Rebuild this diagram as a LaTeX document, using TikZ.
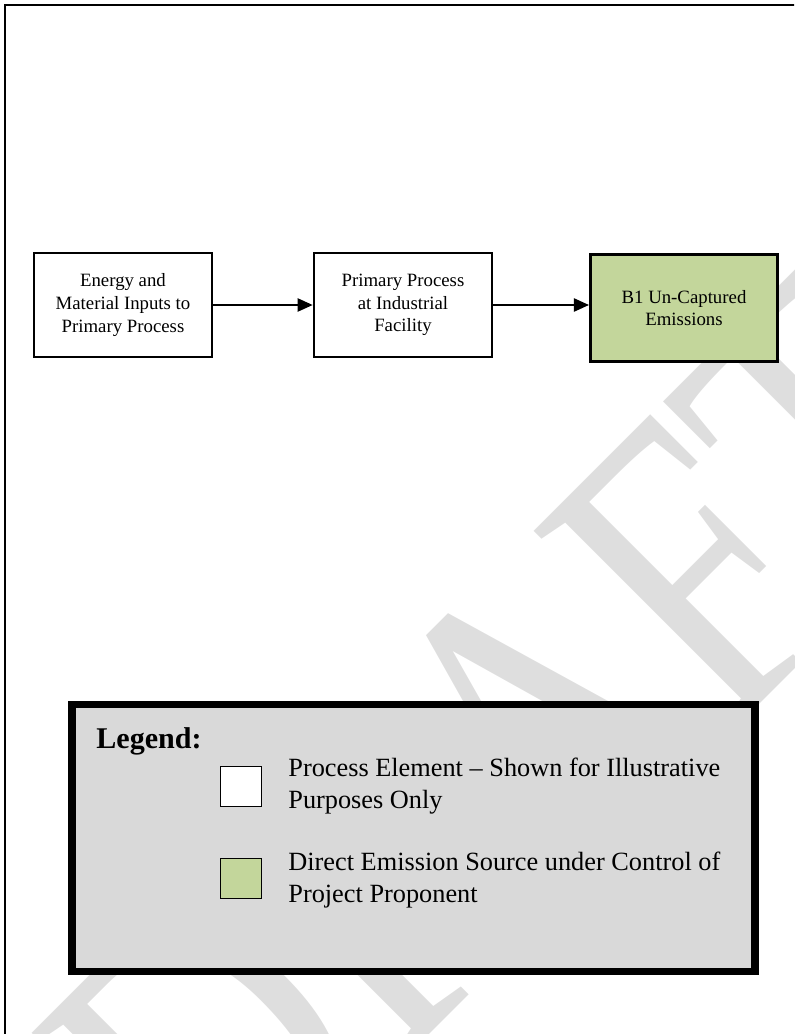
\documentclass[tikz,border=0pt]{standalone}
\usepackage{fontspec}
\setmainfont{Liberation Serif}
\usepackage{graphicx}
\usetikzlibrary{arrows.meta,positioning}
\definecolor{emitgreen}{HTML}{C3D69B}
\definecolor{legendgray}{HTML}{D9D9D9}
\definecolor{draftgray}{HTML}{DEDEDE}
\tikzset{
  procbox/.style={draw, line width=1.1pt, fill=white, minimum width=95pt, minimum height=55.8pt, inner sep=0pt, align=center, font=\fontsize{10}{12}\selectfont},
  emitbox/.style={procbox, line width=1.6pt, fill=emitgreen, minimum width=99.5pt, minimum height=56.6pt},
  flow/.style={line width=1pt, -{Triangle[length=8pt,width=7pt]}},
  keybox/.style={draw, line width=1pt, minimum width=21.8pt, minimum height=21.3pt, inner sep=0pt},
  keytext/.style={anchor=base west, inner sep=0pt, align=left, font=\fontsize{14}{16.5}\selectfont}
}

\begin{document}
\begin{tikzpicture}[x=0.532pt,y=-0.532pt]
\useasboundingbox (0,0) rectangle (794,1034);
\clip (0,0) rectangle (794,1034);
\node[text=draftgray, rotate=45, anchor=base, inner sep=0pt, font=\fontsize{229}{229}\selectfont] (draft) at (614,850) {\scalebox{0.78}[1]{DRAFT}};
\draw[line width=0.75pt] (5,1040) -- (5,5) -- (800,5);

\node[procbox] (inputs) at (123,305) {Energy and\\Material Inputs to\\Primary Process};
\node[procbox] (primary) at (403,305) {Primary Process\\at Industrial\\Facility};
\node[emitbox] (uncapt) at (684,308) {B1 Un-Captured\\Emissions};
\draw[flow] (inputs.east) -- (primary.west);
\draw[flow] (primary.east) -- (primary.east -| uncapt.west);

\node[draw, line width=4pt, fill=legendgray, minimum width=363.6pt, minimum height=141.8pt, inner sep=0pt] (legend) at (413.5,838) {};
\node[anchor=base west, inner sep=0pt, font=\fontsize{16}{19}\selectfont\bfseries] (legtitle) at (96,748) {Legend:};
\node[keybox, fill=white] (keyproc) at (241,786.5) {};
\node[keybox, fill=emitgreen] (keyemit) at (241,878.5) {};
\node[keytext] (procnote) at (288,808) {Process Element – Shown for Illustrative\\Purposes Only};
\node[keytext] (emitnote) at (288,902) {Direct Emission Source under Control of\\Project Proponent};
\end{tikzpicture}
\end{document}
